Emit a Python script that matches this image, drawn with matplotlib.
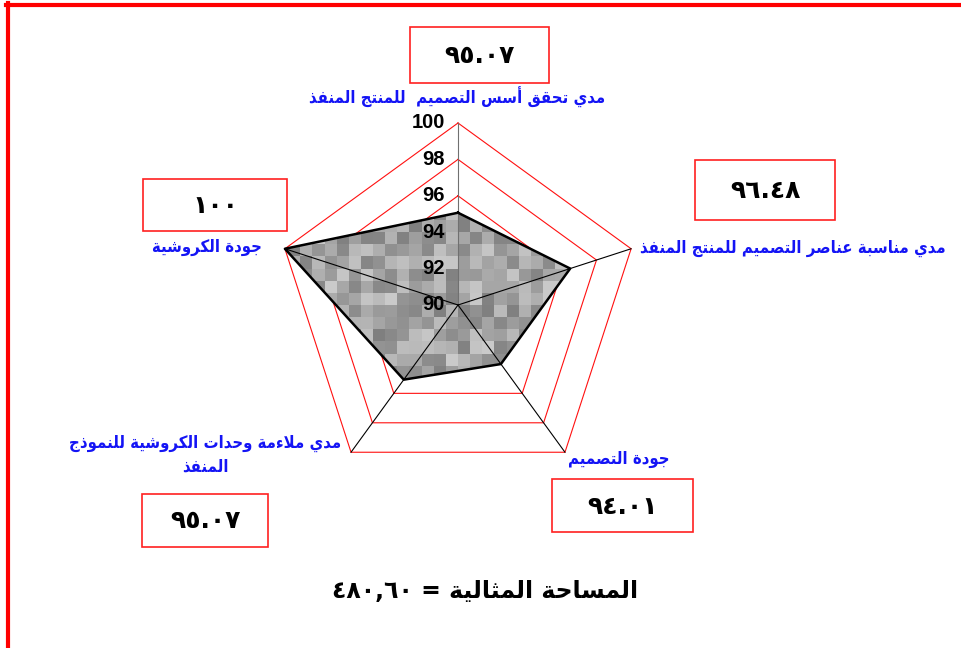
import numpy as np
import matplotlib
matplotlib.use('Agg')
import matplotlib.pyplot as plt
from matplotlib.patches import Rectangle
from matplotlib.lines import Line2D
from matplotlib.image import BboxImage
from matplotlib.transforms import Bbox, TransformedBbox, offset_copy

# ---------------- data ----------------
categories = [
    "مدي تحقق أسس التصميم  للمنتج المنفذ",
    "مدي مناسبة عناصر التصميم للمنتج المنفذ",
    "جودة التصميم",
    "مدي ملاءمة وحدات الكروشية للنموذج\nالمنفذ",
    "جودة الكروشية",
]
values = [95.07, 96.48, 94.01, 95.07, 100]
value_labels = ["٩٥.٠٧", "٩٦.٤٨", "٩٤.٠١", "٩٥.٠٧", "١٠٠"]
r_ticks = [90, 92, 94, 96, 98, 100]
area_label = "المساحة المثالية = ٤٨٠,٦٠"

# ---------------- minimal Arabic shaping (presentation forms + RTL order) ----------------
_DUAL = {'ب': 0xFE8F, 'ت': 0xFE95, 'ث': 0xFE99, 'ج': 0xFE9D, 'ح': 0xFEA1, 'خ': 0xFEA5,
         'س': 0xFEB1, 'ش': 0xFEB5, 'ص': 0xFEB9, 'ض': 0xFEBD, 'ط': 0xFEC1, 'ظ': 0xFEC5,
         'ع': 0xFEC9, 'غ': 0xFECD, 'ف': 0xFED1, 'ق': 0xFED5, 'ك': 0xFED9, 'ل': 0xFEDD,
         'م': 0xFEE1, 'ن': 0xFEE5, 'ه': 0xFEE9, 'ي': 0xFEF1, 'ئ': 0xFE89}
_RIGHT = {'آ': 0xFE81, 'أ': 0xFE83, 'ؤ': 0xFE85, 'إ': 0xFE87, 'ا': 0xFE8D, 'ة': 0xFE93,
          'د': 0xFEA9, 'ذ': 0xFEAB, 'ر': 0xFEAD, 'ز': 0xFEAF, 'و': 0xFEED, 'ى': 0xFEEF}
_NONE = {'ء': 0xFE80}
_LAMALEF = {'آ': 0xFEF5, 'أ': 0xFEF7, 'إ': 0xFEF9, 'ا': 0xFEFB}
_DIGITS = set("0123456789٠١٢٣٤٥٦٧٨٩.,٫")


def _joins(c):
    return c in _DUAL or c in _RIGHT


def _shape_line(s):
    out = []
    i = 0
    n = len(s)
    while i < n:
        c = s[i]
        prev = s[i - 1] if i > 0 else ''
        if c == 'ل' and i + 1 < n and s[i + 1] in _LAMALEF:
            base = _LAMALEF[s[i + 1]]
            out.append(chr(base + 1 if prev in _DUAL else base))
            i += 2
            continue
        nxt = s[i + 1] if i + 1 < n else ''
        if c in _DUAL:
            b = _DUAL[c]
            left = prev in _DUAL
            right = _joins(nxt)
            if left and right:
                out.append(chr(b + 3))
            elif left:
                out.append(chr(b + 1))
            elif right:
                out.append(chr(b + 2))
            else:
                out.append(chr(b))
        elif c in _RIGHT:
            b = _RIGHT[c]
            out.append(chr(b + 1 if prev in _DUAL else b))
        elif c in _NONE:
            out.append(chr(_NONE[c]))
        else:
            out.append(c)
        i += 1
    shaped = ''.join(out)
    # visual order: reverse, keeping digit runs left-to-right
    tokens = []
    buf = ''
    for ch in shaped:
        if ch in _DIGITS:
            buf += ch
        else:
            if buf:
                tokens.append(buf)
                buf = ''
            tokens.append(ch)
    if buf:
        tokens.append(buf)
    return ''.join(reversed(tokens))


def ar(s):
    return '\n'.join(_shape_line(line) for line in s.split('\n'))


# ---------------- figure ----------------
W, H = 962, 648
fig = plt.figure(figsize=(W / 100, H / 100), dpi=100)
fig.patch.set_facecolor('white')


def fx(x):
    return x / W


def fy(y):
    return 1 - y / H


# red page frame (top and left edges)
fig.add_artist(Line2D([fx(6), fx(962)], [fy(5), fy(5)], color='#FF0000', lw=3.0,
                      transform=fig.transFigure))
fig.add_artist(Line2D([fx(8), fx(8)], [fy(3), fy(648)], color='#FF0000', lw=3.0,
                      transform=fig.transFigure))

# radar axes: centre (458,305) px, radius 182 px
cx, cy, R = 458, 305, 182
ax = fig.add_axes([fx(cx - R), fy(cy + R), 2 * R / W, 2 * R / H], projection='polar')
ax.set_theta_offset(np.pi / 2)
ax.set_theta_direction(-1)
ax.set_ylim(r_ticks[0], r_ticks[-1])
ax.grid(False)
ax.set_xticks([])
ax.set_yticks([])
ax.spines['polar'].set_visible(False)
ax.patch.set_visible(False)

N = len(categories)
theta = np.linspace(0, 2 * np.pi, N, endpoint=False)
theta_c = np.append(theta, theta[0])

# red pentagon grid
for r in r_ticks[1:]:
    ax.plot(theta_c, [r] * (N + 1), color='#FF1010', lw=0.8, zorder=1, clip_on=False)

# polygon (textured fill)
vals_c = np.append(values, values[0])
poly = ax.fill(theta_c, vals_c, facecolor='none', edgecolor='none', zorder=2)[0]

ny = nx = 30
I, J = np.mgrid[0:ny, 0:nx]
h = np.abs(np.modf(np.sin(I * 12.9898 + J * 78.233) * 43758.5453)[0])
g = 0.50 + 0.30 * h
tex = np.dstack([g, g, g])
bim = BboxImage(TransformedBbox(Bbox.unit(), ax.transAxes), interpolation='nearest',
                origin='upper')
bim.set_data(tex)
bim.set_zorder(2)
bim.set_clip_path(poly)
ax.add_artist(bim)

# spokes
for k, t in enumerate(theta):
    ax.plot([t, t], [r_ticks[0], r_ticks[-1]], color='#707070' if k == 0 else 'black',
            lw=0.8, zorder=3, clip_on=False)

# polygon outline
ax.plot(theta_c, vals_c, color='black', lw=1.8, zorder=4, clip_on=False)

# radial tick labels
tl_tr = offset_copy(ax.transData, fig=fig, x=-13, y=0, units='dots')
for r in r_ticks:
    ax.text(0, r, str(r), transform=tl_tr, ha='right', va='center',
            fontfamily='Liberation Sans', fontweight='bold', fontsize=14.5,
            color='black', zorder=6, clip_on=False)

# category labels (blue, bold)
label_pos = [(457, 97), (793, 248), (619, 459), (205, 455), (207, 247)]
for txt, (x, y) in zip(categories, label_pos):
    fig.text(fx(x), fy(y), ar(txt), ha='center', va='center', color='#1414F5',
             fontfamily='DejaVu Sans', fontweight='bold', fontstretch='condensed',
             fontsize=12, linespacing=1.4, multialignment='center')

# value boxes
boxes = [(410, 27, 549, 83), (695, 160, 835, 220), (552, 479, 693, 532),
         (142, 494, 268, 547), (143, 179, 287, 231)]
for txt, (x0, y0, x1, y1) in zip(value_labels, boxes):
    fig.add_artist(Rectangle((fx(x0), fy(y1)), (x1 - x0) / W, (y1 - y0) / H,
                             transform=fig.transFigure, facecolor='white',
                             edgecolor='#FF2020', lw=1.2))
    fig.text(fx((x0 + x1) / 2), fy((y0 + y1) / 2 + 1), ar(txt), ha='center', va='center',
             color='black', fontfamily='DejaVu Sans', fontweight='bold', fontsize=18)

# ideal area text
fig.text(fx(485), fy(591), ar(area_label), ha='center', va='center', color='black',
         fontfamily='DejaVu Sans', fontweight='bold', fontsize=17)

fig.savefig('out.png', dpi=100, facecolor='white')
